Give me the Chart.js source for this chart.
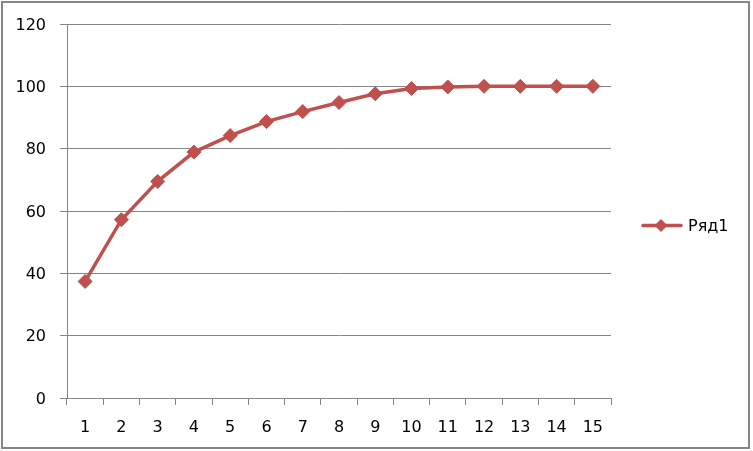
<!DOCTYPE html>
<html>
<head>
<meta charset="utf-8">
<script src="https://cdn.jsdelivr.net/npm/chart.js@4"></script>
<style>
html,body{margin:0;padding:0;background:#fff;}
canvas{display:block;}
</style>
</head>
<body>
<canvas id="c" width="753" height="451"></canvas>
<script>
const categories = ['1','2','3','4','5','6','7','8','9','10','11','12','13','14','15'];
const seriesName = 'Ряд1';
const seriesValues = [37.4, 57.2, 69.5, 78.9, 84.2, 88.7, 91.9, 94.8, 97.6, 99.3, 99.8, 100, 100, 100, 100];
const yMin = 0, yMax = 120, yStep = 20;

const RED = '#C0504D';
const GRID = '#868686';
const FONT = {family: '"DejaVu Sans", sans-serif', size: 16};

const framePlugin = {
  id: 'frameLegend',
  beforeDraw(chart) {
    const ctx = chart.ctx;
    ctx.save();
    ctx.fillStyle = '#fff';
    ctx.fillRect(0, 0, chart.width, chart.height);
    ctx.restore();
  },
  afterDraw(chart) {
    const ctx = chart.ctx;
    ctx.save();
    // outer frame
    ctx.strokeStyle = GRID;
    ctx.lineWidth = 2;
    ctx.strokeRect(2, 2, 747, 446);
    // legend
    const ds = chart.data.datasets[0];
    const ly = 225.5;
    ctx.strokeStyle = ds.borderColor;
    ctx.lineWidth = 3.5;
    ctx.lineCap = 'round';
    ctx.beginPath();
    ctx.moveTo(643, ly);
    ctx.lineTo(681, ly);
    ctx.stroke();
    ctx.fillStyle = ds.borderColor;
    ctx.beginPath();
    ctx.moveTo(661, ly - 6.5); ctx.lineTo(667.5, ly); ctx.lineTo(661, ly + 6.5); ctx.lineTo(654.5, ly); ctx.closePath();
    ctx.fill();
    ctx.fillStyle = '#000';
    ctx.font = '16px "DejaVu Sans", sans-serif';
    ctx.textBaseline = 'middle';
    ctx.textAlign = 'left';
    ctx.fillText(ds.label, 688, ly + 1);
    ctx.restore();
  }
};

new Chart(document.getElementById('c'), {
  type: 'line',
  data: {
    labels: categories,
    datasets: [{
      label: seriesName,
      data: seriesValues,
      borderColor: RED,
      backgroundColor: RED,
      borderWidth: 3.5,
      pointStyle: 'rectRot',
      pointRadius: 7,
      pointBorderWidth: 1,
      pointBackgroundColor: RED,
      pointBorderColor: RED,
      tension: 0,
      fill: false
    }]
  },
  options: {
    responsive: false,
    animation: false,
    events: [],
    layout: {padding: {left: 0, top: 24, right: 142, bottom: 0}},
    plugins: {legend: {display: false}, tooltip: {enabled: false}},
    scales: {
      x: {
        type: 'category',
        offset: true,
        grid: {display: true, drawOnChartArea: false, drawTicks: true, tickLength: 7, color: GRID, offset: true},
        border: {display: true, color: GRID, width: 1},
        ticks: {font: FONT, color: '#000', padding: 13, maxRotation: 0, autoSkip: false},
        afterFit(s) { s.height = 53; }
      },
      y: {
        min: yMin, max: yMax,
        grid: {color: GRID, tickLength: 7, drawTicks: true},
        border: {display: true, color: GRID, width: 1},
        ticks: {stepSize: yStep, font: FONT, color: '#000', padding: 14, labelOffset: 1.5},
        afterFit(s) { s.width = 67; }
      }
    }
  },
  plugins: [framePlugin]
});
</script>
</body>
</html>
